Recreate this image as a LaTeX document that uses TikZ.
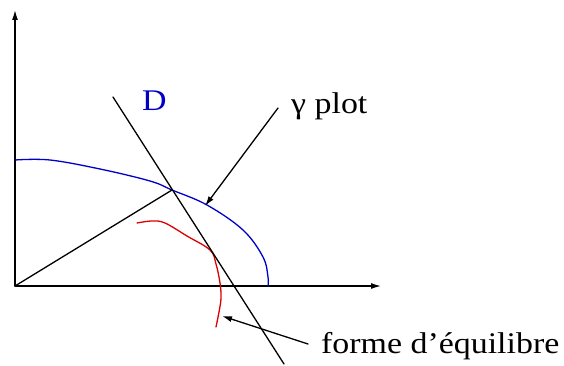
\documentclass[tikz,border=0pt]{standalone}
\usepackage{fontspec}
\setmainfont{Liberation Serif}
\newfontfamily\labfont[FakeStretch=1.13]{Liberation Serif}
\usetikzlibrary{arrows.meta}
\definecolor{cblue}{RGB}{0,0,200}
\definecolor{cred}{RGB}{220,0,0}
\begin{document}
\begin{tikzpicture}[x=1pt,y=-1pt,
  ln/.style={line width=1.3pt, line cap=round},
  tip/.style={-{Latex[length=10pt,width=6pt]}},
  lab/.style={inner sep=0pt, anchor=base west, font=\labfont\fontsize{30}{36}\selectfont}]
\useasboundingbox (0,0) rectangle (564,366);
% coordinates
\coordinate (O) at (15,286);
\coordinate (Ytop) at (15,10);
\coordinate (Xend) at (381,286);
\coordinate (P) at (172,190);
\coordinate (Dtop) at (113,97);
\coordinate (Dbot) at (284,364);
\coordinate (Gs) at (278,108);
\coordinate (Ge) at (205,206);
\coordinate (Fs) at (308,344);
\coordinate (Fe) at (222,316);
% axes
\draw[ln,tip] (O) -- (Ytop);
\draw[ln,tip] (O) -- (Xend);
% gamma plot curve
\draw[ln,cblue] plot[smooth,tension=0.6] coordinates {(15,160) (50,160) (100,169) (150,181) (172,190) (207,205) (243,230) (263,257) (268,277) (268,286)};
% equilibrium shape
\draw[ln,cred] plot[smooth,tension=0.6] coordinates {(137,223) (152,221) (165,223) (187,236) (210,250) (216,264) (220,283) (221,298) (219,312) (216,327)};
% radius and line D
\draw[ln] (O) -- (P);
\draw[ln] (Dtop) -- (Dbot);
% labels
\node[lab, text=cblue, font=\labfont\fontsize{30}{35}\selectfont] (D) at (142,111) {D};
\node[lab] (G) at (291,114) {γ plot};
\node[lab] (F) at (321,353) {forme d’équilibre};
% label arrows
\draw[ln,tip] (Gs) -- (Ge);
\draw[ln,tip] (Fs) -- (Fe);
\end{tikzpicture}
\end{document}
